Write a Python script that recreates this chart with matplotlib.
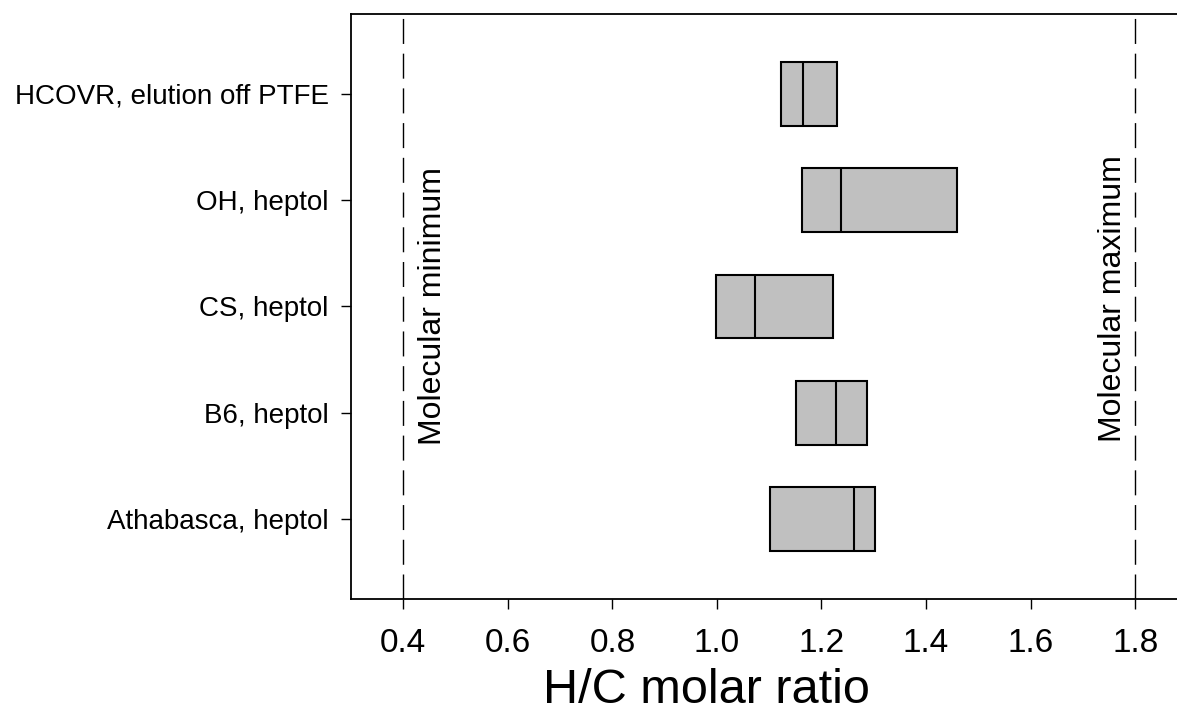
import matplotlib.pyplot as plt

plt.rcParams['font.family'] = ['Liberation Sans', 'DejaVu Sans']

# Datos: cajas de la razon molar H/C (q1, mediana, q3)
muestras = ['Athabasca, heptol', 'B6, heptol', 'CS, heptol', 'OH, heptol',
            'HCOVR, elution off PTFE']
q1 = [1.102, 1.151, 0.999, 1.162, 1.123]
mediana = [1.262, 1.227, 1.072, 1.237, 1.165]
q3 = [1.302, 1.287, 1.222, 1.459, 1.229]
limite_min = 0.4
limite_max = 1.8
ticks_x = [0.4, 0.6, 0.8, 1.0, 1.2, 1.4, 1.6, 1.8]

fig = plt.figure(figsize=(11.77, 7.17), dpi=100)
ax = fig.add_axes([0.2982, 0.1646, 0.7018, 0.8159])

pos = list(range(len(muestras)))
anchos = [b - a for a, b in zip(q1, q3)]
ax.barh(pos, anchos, left=q1, height=0.6, color='#c0c0c0',
        edgecolor='black', linewidth=1.5, zorder=3)
ax.vlines(mediana, [p - 0.3 for p in pos], [p + 0.3 for p in pos],
          color='black', linewidth=1.5, zorder=4)

# Limites moleculares
for xv in (limite_min, limite_max):
    ax.axvline(xv, color='black', linewidth=1, dashes=(18, 7), zorder=1)
ax.text(0.456, 2.0, 'Molecular minimum', rotation=90, ha='center',
        va='center', fontsize=23)
ax.text(1.757, 2.07, 'Molecular maximum', rotation=90, ha='center',
        va='center', fontsize=23)

ax.set_xlim(0.3, 1.88)
ax.set_ylim(-0.75, 4.75)
ax.set_xticks(ticks_x)
ax.set_xticklabels([f'{t:.1f}' for t in ticks_x])
ax.set_yticks(pos)
ax.set_yticklabels(muestras)
ax.tick_params(axis='x', direction='out', length=7, width=1, labelsize=24, pad=14)
ax.tick_params(axis='y', direction='out', length=7, width=1, labelsize=20, pad=9)
ax.set_xlabel('H/C molar ratio', fontsize=35)
ax.xaxis.set_label_coords(0.43, -0.118)

ax.spines['right'].set_visible(False)
for s in ('left', 'top', 'bottom'):
    ax.spines[s].set_linewidth(1.3)

fig.savefig('out.png', dpi=100)
